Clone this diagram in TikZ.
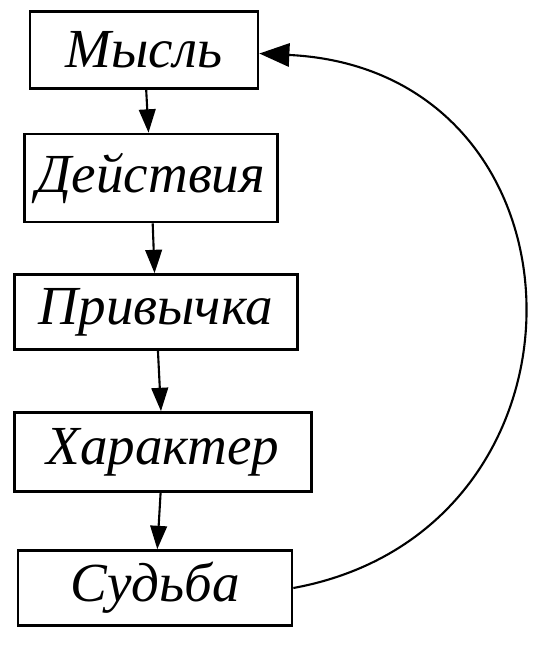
\documentclass[tikz,border=0pt]{standalone}
\usepackage{fontspec}
\setmainfont{Liberation Serif}
\usetikzlibrary{arrows.meta, positioning}

\begin{document}
\begin{tikzpicture}[x=0.03cm, y=-0.03cm,
	stage/.style={draw, line width=2.3pt, inner sep=0pt, minimum height=2.3cm,
		font=\fontsize{47}{56}\selectfont\itshape},
	arr/.style={line width=1.8pt, -{Triangle[length=7mm, width=5mm]}}]
	\useasboundingbox (0,0) rectangle (541,660);
	% цепочка
	\node[stage, minimum width=6.84cm] (mysl) at (144,50) {Мысль};
	\node[stage, minimum width=7.59cm, minimum height=2.64cm] (deist) at (151,178) {Действия};
	\node[stage, minimum width=8.49cm, minimum height=2.25cm] (priv) at (156,312) {Привычка};
	\node[stage, minimum width=8.91cm, minimum height=2.37cm] (khar) at (163,452) {Характер};
	\node[stage, minimum width=8.22cm, minimum height=2.25cm] (sud) at (155,588) {Судьба};
	\draw[arr] (mysl) -- (deist);
	\draw[arr] (deist) -- (priv);
	\draw[arr] (priv) -- (khar);
	\draw[arr] (khar) -- (sud);
	% обратная связь
	\draw[arr, -{Triangle[length=9mm, width=7mm]}] (sud.east) .. controls (610,530) and (600,70) .. ([yshift=-3pt]mysl.east);
\end{tikzpicture}
\end{document}
